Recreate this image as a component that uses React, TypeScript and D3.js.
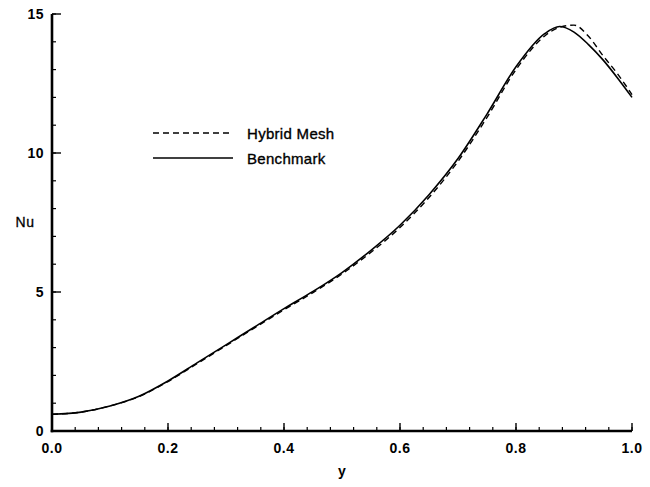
import React from "react";
import * as d3 from "d3";

const yPositions = [0, 0.05, 0.1, 0.15, 0.2, 0.25, 0.3, 0.35, 0.4, 0.45, 0.5, 0.55, 0.6, 0.65, 0.7, 0.75, 0.8, 0.85, 0.875, 0.9, 0.925, 0.95, 0.975, 1.0];
const benchmarkNu = [0.6, 0.68, 0.9, 1.25, 1.8, 2.45, 3.1, 3.75, 4.4, 5.02, 5.7, 6.5, 7.4, 8.5, 9.8, 11.4, 13.1, 14.3, 14.55, 14.35, 13.9, 13.35, 12.7, 12.0];
const hybridNu = [0.6, 0.68, 0.9, 1.24, 1.78, 2.42, 3.07, 3.72, 4.36, 4.98, 5.65, 6.43, 7.32, 8.4, 9.7, 11.28, 13.0, 14.22, 14.52, 14.6, 14.2, 13.5, 12.85, 12.1];
const xTicks = [0, 0.2, 0.4, 0.6, 0.8, 1.0];
const yTicks = [0, 5, 10, 15];
const seriesNames = ["Hybrid Mesh", "Benchmark"];

const W = 650, H = 487;
const left = 52, right = 632, top = 14, bottom = 431;
const font = "'Liberation Sans', Arial, Helvetica, sans-serif";

export default function App() {
  const x = d3.scaleLinear().domain([0, 1]).range([left, right]);
  const y = d3.scaleLinear().domain([0, 15]).range([bottom, top]);
  const line = d3.line<number>().x((_, i) => x(yPositions[i])).y((d) => y(d)).curve(d3.curveMonotoneX);
  const xMinor = d3.range(0, 1.0001, 0.04);
  const yMinor = d3.range(0, 15.0001, 1);
  return (
    <svg width={W} height={H} style={{ position: "absolute", left: 0, top: 0, background: "#fff" }}>
      <rect width={W} height={H} fill="#fff" />
      <path d={line(benchmarkNu) || ""} fill="none" stroke="#000" strokeWidth={1.6} />
      <path d={line(hybridNu) || ""} fill="none" stroke="#000" strokeWidth={1.4} strokeDasharray="6 4" />
      {xMinor.map((t, i) => (
        <line key={"xm" + i} x1={x(t)} x2={x(t)} y1={bottom} y2={bottom - 4} stroke="#000" strokeWidth={1.2} />
      ))}
      {xTicks.map((t) => (
        <line key={"xM" + t} x1={x(t)} x2={x(t)} y1={bottom} y2={bottom - 8} stroke="#000" strokeWidth={1.4} />
      ))}
      {yMinor.map((t, i) => (
        <line key={"ym" + i} x1={left} x2={left + 4} y1={y(t)} y2={y(t)} stroke="#000" strokeWidth={1.2} />
      ))}
      {yTicks.map((t) => (
        <line key={"yM" + t} x1={left} x2={left + 9} y1={y(t)} y2={y(t)} stroke="#000" strokeWidth={1.4} />
      ))}
      <line x1={left} x2={left} y1={top} y2={bottom + 1.2} stroke="#000" strokeWidth={2.6} />
      <line x1={left - 1.3} x2={right} y1={bottom} y2={bottom} stroke="#000" strokeWidth={2.6} />
      {xTicks.map((t) => (
        <text key={"xl" + t} x={x(t)} y={bottom + 22} textAnchor="middle" fontFamily={font} fontSize={14} fontWeight="bold" letterSpacing={0.5}>
          {t.toFixed(1)}
        </text>
      ))}
      {yTicks.map((t) => (
        <text key={"yl" + t} x={left - 8} y={y(t) + 5} textAnchor="end" fontFamily={font} fontSize={14} fontWeight="bold" letterSpacing={0.5}>
          {t}
        </text>
      ))}
      <text x={(left + right) / 2} y={476} textAnchor="middle" fontFamily={font} fontSize={14} fontWeight="bold">y</text>
      <text x={25} y={227} textAnchor="middle" fontFamily={font} fontSize={14} stroke="#000" strokeWidth={0.3} letterSpacing={0.5}>Nu</text>
      <line x1={153} x2={233} y1={133} y2={133} stroke="#000" strokeWidth={1.4} strokeDasharray="6 4" />
      <text x={247} y={139} fontFamily={font} fontSize={15} stroke="#000" strokeWidth={0.35} letterSpacing={0.3}>{seriesNames[0]}</text>
      <line x1={153} x2={233} y1={158} y2={158} stroke="#000" strokeWidth={1.6} />
      <text x={247} y={164} fontFamily={font} fontSize={15} stroke="#000" strokeWidth={0.35} letterSpacing={0.3}>{seriesNames[1]}</text>
    </svg>
  );
}
